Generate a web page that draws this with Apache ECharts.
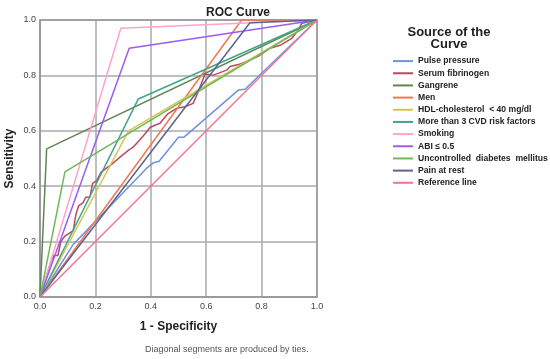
<!DOCTYPE html>
<html><head><meta charset="utf-8">
<script src="https://cdn.jsdelivr.net/npm/echarts@6/dist/echarts.min.js"></script>
<style>html,body{margin:0;padding:0;background:#fff}#c{width:550px;height:359px}</style>
</head><body><div id="c"></div>
<script>
var seriesNames = ["Pulse pressure","Serum fibrinogen","Gangrene","Men","HDL-cholesterol  < 40 mg/dl","More than 3 CVD risk factors","Smoking","ABI ≤ 0.5","Uncontrolled  diabetes  mellitus","Pain at rest","Reference line"];
var colors = ["#6f93dc","#b84a62","#5f8556","#f0784e","#d6c456","#3fa58c","#ffa3cc","#9a5cf5","#72b85c","#5c6592","#f7708f"];
var pulsePressure = [[0,0],[0.12,0.19],[0.385,0.465],[0.41,0.485],[0.43,0.49],[0.5,0.577],[0.52,0.577],[0.716,0.747],[0.74,0.75],[1,1]];
var serumFibrinogen = [[0,0],[0.04,0.13],[0.05,0.15],[0.065,0.15],[0.075,0.2],[0.09,0.22],[0.105,0.23],[0.12,0.24],[0.13,0.3],[0.14,0.33],[0.155,0.34],[0.165,0.36],[0.18,0.36],[0.19,0.41],[0.205,0.42],[0.22,0.45],[0.24,0.465],[0.26,0.48],[0.29,0.506],[0.32,0.53],[0.335,0.54],[0.36,0.567],[0.38,0.59],[0.397,0.612],[0.415,0.62],[0.433,0.627],[0.46,0.66],[0.493,0.681],[0.523,0.687],[0.553,0.699],[0.571,0.741],[0.596,0.805],[0.626,0.801],[0.674,0.819],[0.686,0.832],[0.72,0.84],[0.758,0.856],[0.79,0.87],[0.83,0.898],[0.87,0.91],[0.909,0.934],[0.93,0.96],[0.945,0.988],[1,1]];
var gangrene = [[0,0],[0.024,0.535],[1,1]];
var men = [[0,0],[0.728,1],[1,1]];
var hdl = [[0,0],[0.32,0.6],[1,1]];
var cvd = [[0,0],[0.355,0.715],[1,1]];
var smoking = [[0,0],[0.292,0.97],[1,1]];
var abi = [[0,0],[0.322,0.898],[1,1]];
var diabetes = [[0,0],[0.09,0.452],[1,1]];
var painAtRest = [[0,0],[0.758,0.99],[1,1]];
var referenceLine = [[0,0],[1,1]];
var allData = [pulsePressure,serumFibrinogen,gangrene,men,hdl,cvd,smoking,abi,diabetes,painAtRest,referenceLine];
var ticks = [0,0.2,0.4,0.6,0.8,1.0];

var chart = echarts.init(document.getElementById('c'));
var font = '"Liberation Sans", Arial, sans-serif';
var series = seriesNames.map(function(n,i){
  return {name:n,type:'line',data:allData[i],showSymbol:false,symbol:'none',
    lineStyle:{color:colors[i],width:1.5},itemStyle:{color:colors[i]},
    animation:false,z:2+i};
});
chart.setOption({
  animation:false,
  title:[{text:'ROC Curve',left:233,top:2,textAlign:'center',textStyle:{fontFamily:font,fontSize:12,fontWeight:'bold',color:'#222'}},
         {text:'Source of the\nCurve',left:444,top:21,textAlign:'center',textStyle:{fontFamily:font,fontSize:13,fontWeight:'bold',color:'#222',lineHeight:12}}],
  legend:{orient:'vertical',left:388,top:50,itemWidth:20,itemHeight:2,icon:'rect',itemGap:0,
    data:seriesNames,
    textStyle:{fontFamily:font,fontSize:8.6,fontWeight:'bold',color:'#222',lineHeight:12.17,overflow:'none',width:200,padding:[0,0,0,0]}},
  grid:{left:40,top:20,width:277,height:277,containLabel:false,outerBoundsMode:'none'},
  xAxis:{type:'value',min:0,max:1,interval:0.2,name:'1 - Specificity',nameLocation:'middle',nameGap:24,nameMoveOverlap:false,
    nameTextStyle:{fontFamily:font,fontSize:12,fontWeight:'bold',color:'#222',padding:[0,0,0,0]},
    axisLine:{show:true,lineStyle:{color:'#999',width:1.5}},axisTick:{show:false},
    axisLabel:{fontFamily:font,fontSize:9,color:'#444',margin:5,formatter:function(v){return v.toFixed(1);}},
    splitLine:{show:true,lineStyle:{color:'#aaa',width:1.5}}},
  yAxis:{type:'value',min:0,max:1,interval:0.2,name:'Sensitivity',nameLocation:'middle',nameGap:24,nameMoveOverlap:false,
    nameTextStyle:{fontFamily:font,fontSize:12,fontWeight:'bold',color:'#222'},
    axisLine:{show:true,lineStyle:{color:'#999',width:1.5}},axisTick:{show:false},
    axisLabel:{fontFamily:font,fontSize:9,color:'#444',margin:4,formatter:function(v){return v.toFixed(1);}},
    splitLine:{show:true,lineStyle:{color:'#aaa',width:1.5}}},
  graphic:[{type:'text',left:145,top:345,style:{text:'Diagonal segments are produced by ties.',fontFamily:font,fontSize:9,fill:'#555'}},
           {type:'rect',shape:{x:40,y:20,width:277,height:277},style:{fill:'none',stroke:'#999',lineWidth:1.5},z:1}],
  series:series
});
</script></body></html>
